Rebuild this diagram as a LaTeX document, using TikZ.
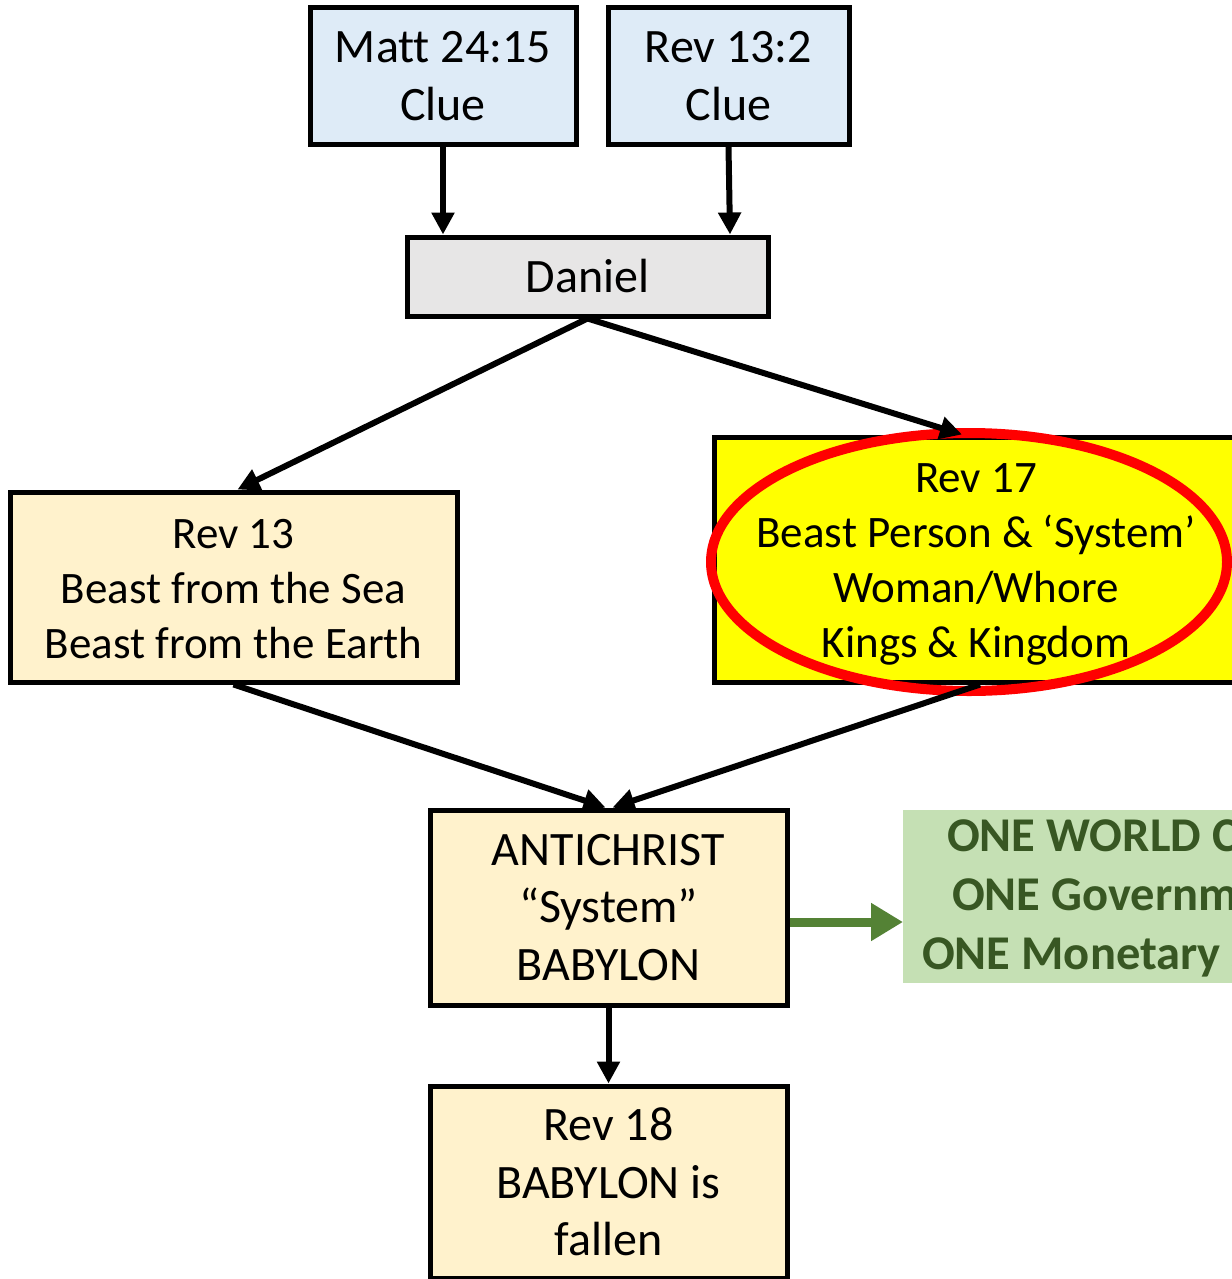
\documentclass[tikz,border=0pt]{standalone}
\usepackage{fontspec}
\setmainfont{Carlito}[Ligatures=NoCommon]
\usetikzlibrary{arrows.meta,shapes.geometric}
\definecolor{clueblue}{HTML}{DEEBF7}
\definecolor{dangray}{HTML}{E7E6E6}
\definecolor{cream}{HTML}{FFF2CC}
\definecolor{brightyellow}{HTML}{FFFF00}
\definecolor{boxgreen}{HTML}{C5E0B4}
\definecolor{textgreen}{HTML}{385723}
\definecolor{arrowgreen}{HTML}{548235}
\begin{document}
\begin{tikzpicture}[x=1pt,y=-1pt,
  box/.style={draw=black,line width=5pt,rectangle,inner sep=0pt,align=center,
    font=\fontsize{48}{58}\selectfont},
  gline/.style={inner sep=0pt,anchor=base west,text=textgreen,font=\bfseries\fontsize{48.5}{58.5}\selectfont},
  conn/.style={line width=6pt,-{Triangle[length=22pt,width=22pt]}},
  gconn/.style={draw=arrowgreen,line width=9pt,-{Triangle[length=32pt,width=36pt]}}]
\useasboundingbox (0,0) rectangle (1231,1279);
\fill[white] (0,0) rectangle (1231,1279);

\node[box,fill=clueblue,minimum width=266pt,minimum height=136pt] (matt) at (443,76)
  {Matt 24:15\\Clue};
\node[box,fill=clueblue,minimum width=241pt,minimum height=136pt] (rev132) at (728.5,76)
  {Rev 13:2\\Clue};
\node[box,fill=dangray,minimum width=361pt,minimum height=79pt] (daniel) at (587.5,276.5)
  {Daniel};
\node[box,fill=cream,minimum width=447pt,minimum height=190pt] (rev13) at (233.5,587)
  {};
\node[align=center,font=\fontsize{45}{55}\selectfont,inner sep=0pt] (rev13t) at (233.5,589)
  {Rev 13\\Beast from the Sea\\Beast from the Earth};
\node[box,fill=brightyellow,minimum width=524pt,minimum height=245pt] (rev17) at (976,559.5)
  {};
\node[draw=red,line width=10pt,ellipse,minimum width=516pt,minimum height=258pt] (oval) at (969,562) {};
\node[align=center,font=\fontsize{45}{55}\selectfont,inner sep=0pt] (rev17t) at (976,564.5)
  {Rev 17\\Beast Person \& ‘System’\\Woman/Whore\\Kings \& Kingdom};
\node[box,fill=cream,minimum width=357pt,minimum height=195pt,font=\fontsize{48}{57.5}\selectfont] (anti) at (608.5,907.5)
  {ANTICHRIST\\“System”\\BABYLON};
\node[fill=boxgreen,rectangle,inner sep=0pt,minimum width=500pt,minimum height=173pt,anchor=west] (green) at (903,896.5) {};
\node[gline] (g1) at (947,851) {ONE WORLD Church};
\node[gline] (g2) at (952,910) {ONE Government};
\node[gline] (g3) at (922,969) {ONE Monetary System};
\node[box,fill=cream,minimum width=357pt,minimum height=192pt,font=\fontsize{48}{57.5}\selectfont] (rev18) at (608.5,1182)
  {Rev 18\\BABYLON is\\fallen};

\coordinate (gstart) at ([yshift=-14.5pt]anti.east);
\draw[conn] (matt.south) -- (matt.south |- daniel.north);
\draw[conn] (rev132.south) -- ([xshift=1.5pt]rev132.south |- daniel.north);
\draw[conn] (daniel.south) -- ([xshift=4pt]rev13.north);
\draw[conn] (daniel.south) -- ([xshift=-14pt]rev17.north);
\draw[conn] (rev13.south) -- ([xshift=-3pt]anti.north);
\draw[conn] ([xshift=4pt]rev17.south) -- ([xshift=4pt]anti.north);
\draw[conn] (anti.south) -- (rev18.north);
\draw[gconn] (gstart) -- (gstart -| green.west);
\end{tikzpicture}
\end{document}
